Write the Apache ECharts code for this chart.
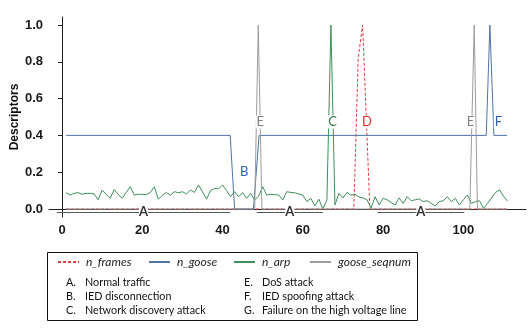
<!DOCTYPE html>
<html>
<head>
<meta charset="utf-8">
<script src="https://cdn.jsdelivr.net/npm/echarts@6/dist/echarts.min.js"></script>
<style>
html, body { margin: 0; padding: 0; background: #fff; }
#main { width: 528px; height: 332px; }
</style>
</head>
<body>
<div id="main"></div>
<script>
// n_arp, one value per sample (x = 1..111)
var arpValues = [
    0.089, 0.076, 0.085, 0.089, 0.080, 0.085, 0.085, 0.082, 0.050, 0.103,
    0.080, 0.058, 0.105, 0.080, 0.058, 0.090, 0.121, 0.076, 0.080, 0.080,
    0.078, 0.089, 0.121, 0.053, 0.075, 0.089, 0.076, 0.094, 0.088, 0.094,
    0.082, 0.103, 0.090, 0.130, 0.094, 0.053, 0.100, 0.112, 0.110, 0.130,
    0.100, 0.067, 0.094, 0.067, 0.089, 0.058, 0.085, 0.049, 0.070, 0.121,
    0.076, 0.080, 0.078, 0.076, 0.049, 0.094, 0.090, 0.088, 0.082, 0.075,
    0.040, 0.058, 0.016, 0.053, 0.000, 0.049, 1.000, 0.022, 0.085, 0.060,
    0.090, 0.075, 0.080, 0.065, 0.060, 0.050, 0.005, 0.067, 0.022, 0.058,
    0.050, 0.035, 0.022, 0.060, 0.030, 0.067, 0.045, 0.050, 0.055, 0.040,
    0.045, 0.030, 0.016, 0.040, 0.045, 0.067, 0.040, 0.058, 0.022, 0.050,
    0.076, 0.031, 0.040, 0.045, 0.004, 0.030, 0.060, 0.090, 0.103, 0.070,
    0.043
];

// breakpoints [sample, value] of the step-like series
var gooseSteps = [[1, 0.4], [41.9, 0.4], [43, 0], [47.7, 0], [49.1, 0.4], [105.7, 0.4], [106.6, 1], [107.6, 0.4], [110.9, 0.4]];
var seqnumSteps = [[1, 0], [48, 0], [48.9, 1], [49.8, 0], [101.6, 0], [102.7, 1], [103.5, 0], [110.9, 0]];
var framesSteps = [[1, 0], [72.7, 0], [73.8, 0.82], [74.9, 1], [76.7, 0], [110.9, 0]];

var xTicks = [0, 20, 40, 60, 80, 100];
var yTicks = [0, 0.2, 0.4, 0.6, 0.8, 1.0];

// letter marks: [letter, sample, value, series]
var eventMarks = [
    ['B', 45.4, 0.2, 'n_goose'],
    ['E', 49.4, 0.473, 'goose_seqnum'],
    ['C', 67.4, 0.473, 'n_arp'],
    ['D', 76.0, 0.473, 'n_frames'],
    ['E', 101.8, 0.473, 'goose_seqnum'],
    ['F', 108.7, 0.473, 'n_goose']
];
// normal traffic spans [from, to]
var normalSpans = [[-1.3, 41.9], [48.5, 65], [78.6, 100.2]];
var normalLevel = -0.016;

var seriesNames = ['n_frames', 'n_goose', 'n_arp', 'goose_seqnum'];
var noteLetters = ['A.', 'B.', 'C.', 'E.', 'F.', 'G.'];
var noteTexts = ['Normal traffic', 'IED disconnection', 'Network discovery attack',
    'DoS attack', 'IED spoofing attack', 'Failure on the high voltage line'];

var colors = {
    n_frames: '#e0393e',
    n_goose: '#4f74a3',
    n_arp: '#3f8f5a',
    goose_seqnum: '#9c9c9c'
};
var labelColors = {
    n_frames: '#d9302b',
    n_goose: '#2f62ad',
    n_arp: '#2f7a45',
    goose_seqnum: '#808080'
};

var tickFont = 'Liberation Sans Narrow, Arial Narrow, sans-serif';

var myChart = echarts.init(document.getElementById('main'), null, { renderer: 'canvas' });

var arpData = arpValues.map(function (v, i) { return [i + 1, v]; });

var marks = eventMarks.map(function (m) {
    return {
        coord: [m[1], m[2]],
        value: m[0],
        label: { color: labelColors[m[3]] }
    };
});
normalSpans.forEach(function (s) {
    marks.push({
        coord: [(s[0] + s[1]) / 2, normalLevel],
        value: 'A',
        label: { color: '#333', fontWeight: 'bold' }
    });
});

function lineSeries(name, data, extra) {
    var s = {
        name: name,
        type: 'line',
        data: data,
        symbol: 'none',
        animation: false,
        lineStyle: { color: colors[name], width: 1 },
        itemStyle: { color: colors[name] }
    };
    for (var k in extra) s[k] = extra[k];
    return s;
}

var legends = [57, 148, 233, 309].map(function (left, i) {
    return {
        data: [seriesNames[i]],
        left: left,
        top: 256,
        padding: 0,
        itemWidth: 21,
        itemHeight: 12,
        selectedMode: false,
        itemStyle: { opacity: 0 },
        textStyle: {
            fontFamily: 'Lato',
            fontStyle: 'italic',
            fontSize: 12,
            color: '#222',
            padding: [0, 0, 0, 2]
        }
    };
});

var graphics = [{
    type: 'rect',
    shape: { x: 47.5, y: 252.5, width: 370, height: 68 },
    style: { fill: 'none', stroke: '#111', lineWidth: 1 }
}];
noteLetters.forEach(function (l, i) {
    var col = i < 3 ? 0 : 1;
    var row = i % 3;
    var y = 283 + row * 14;
    graphics.push({
        type: 'text',
        x: col ? 244 : 66,
        y: y,
        style: { text: l, font: '10.8px Lato', fill: '#111', verticalAlign: 'middle' }
    });
    graphics.push({
        type: 'text',
        x: col ? 262 : 85,
        y: y,
        style: { text: noteTexts[i], font: '10.8px Lato', fill: '#111', verticalAlign: 'middle' }
    });
});

var option = {
    animation: false,
    backgroundColor: '#fff',
    grid: { left: 49, right: 2, top: 17, bottom: 115, containLabel: false, outerBoundsMode: 'none' },
    legend: legends,
    xAxis: {
        type: 'value',
        min: -3.24,
        max: 115.6,
        axisLine: { lineStyle: { color: '#222', width: 1 } },
        axisTick: { show: false },
        splitLine: { show: false },
        axisLabel: {
            customValues: xTicks,
            margin: 7,
            fontFamily: tickFont,
            fontWeight: 'bold',
            fontSize: 13,
            color: '#1a1a1a'
        }
    },
    yAxis: {
        type: 'value',
        min: -0.0435,
        max: 1.0435,
        name: 'Descriptors',
        nameLocation: 'middle',
        nameGap: 28,
        nameMoveOverlap: false,
        nameTextStyle: { fontFamily: tickFont, fontWeight: 'bold', fontSize: 12, color: '#111' },
        axisLine: { show: true, lineStyle: { color: '#222', width: 1 } },
        axisTick: { show: true, length: 4, customValues: yTicks, lineStyle: { color: '#222' } },
        splitLine: { show: false },
        axisLabel: {
            customValues: yTicks,
            margin: 6,
            fontFamily: tickFont,
            fontWeight: 'bold',
            fontSize: 13,
            color: '#1a1a1a',
            formatter: function (v) { return v.toFixed(1); }
        }
    },
    series: [
        lineSeries('n_frames', framesSteps, {
            lineStyle: { color: colors.n_frames, width: 1, type: [3, 2] }
        }),
        lineSeries('n_goose', gooseSteps, {}),
        lineSeries('n_arp', arpData, {}),
        lineSeries('goose_seqnum', seqnumSteps, {
            markLine: {
                silent: true,
                symbol: 'none',
                animation: false,
                lineStyle: { color: '#555', type: 'solid', width: 1 },
                label: { show: false },
                data: normalSpans.map(function (s) {
                    return [{ coord: [s[0], normalLevel] }, { coord: [s[1], normalLevel] }];
                })
            },
            markPoint: {
                silent: true,
                animation: false,
                symbol: 'rect',
                symbolSize: [9, 13],
                itemStyle: { color: '#fff' },
                label: {
                    show: true,
                    position: 'inside',
                    fontFamily: 'Lato',
                    fontSize: 13,
                    formatter: function (p) { return p.value; }
                },
                data: marks
            }
        })
    ],
    graphic: graphics
};

myChart.setOption(option);
window.addEventListener('resize', function () { myChart.resize(); });
</script>
</body>
</html>
